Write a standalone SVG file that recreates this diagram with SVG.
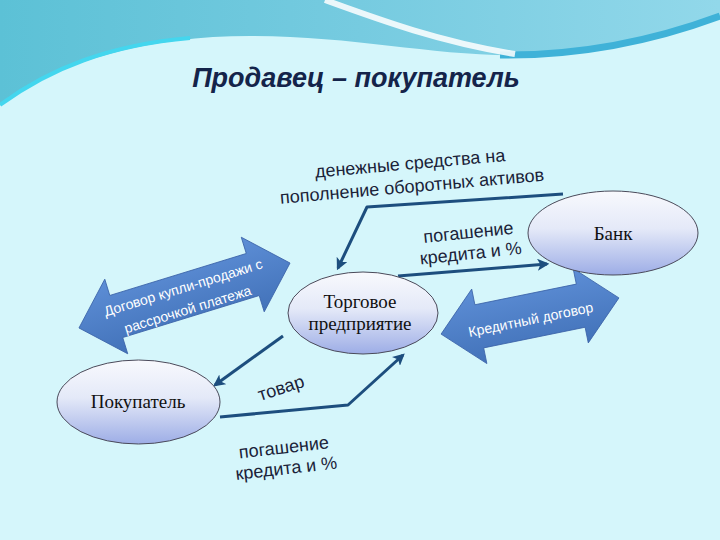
<svg xmlns="http://www.w3.org/2000/svg" width="720" height="540" viewBox="0 0 720 540">
<defs>
<style>
.lbl{font-family:"Liberation Sans",Arial,sans-serif;font-size:18px;fill:#1a2238;text-anchor:middle}
.nodeTxt{font-family:"Liberation Serif","Times New Roman",serif;font-size:19px;fill:#111;text-anchor:middle}
.arrTxt{font-family:"Liberation Sans",Arial,sans-serif;fill:#ffffff;text-anchor:middle}
.conn{fill:none;stroke:#1d4e7e;stroke-width:3;stroke-linejoin:round;marker-end:url(#ah)}
.node{fill:url(#ellG);stroke:#4a4a5a;stroke-width:1}
.big{fill:url(#arrG);stroke:#3b63a8;stroke-width:0.8}
</style>
<linearGradient id="topG" x1="0" y1="0" x2="1" y2="0">
<stop offset="0" stop-color="#5cc1d6"/>
<stop offset="0.5" stop-color="#76cbe0"/>
<stop offset="1" stop-color="#92d8ea"/>
</linearGradient>
<linearGradient id="ellG" x1="0" y1="0" x2="0" y2="1">
<stop offset="0" stop-color="#f8f9fd"/>
<stop offset="0.45" stop-color="#e4e9f8"/>
<stop offset="1" stop-color="#9dade6"/>
</linearGradient>
<linearGradient id="arrG" x1="0" y1="0" x2="0" y2="1">
<stop offset="0" stop-color="#5d8ed6"/>
<stop offset="1" stop-color="#4272b9"/>
</linearGradient>
<marker id="ah" viewBox="0 0 10 10" refX="8" refY="5" markerWidth="4" markerHeight="4" orient="auto" markerUnits="strokeWidth">
<path d="M0,0 L10,5 L0,10 L2.5,5 Z" fill="#1d4e7e"/>
</marker>
</defs>

<g id="background">
<rect x="0" y="0" width="720" height="540" fill="#d5f6fb"/>
<path d="M0,0 H720 V18 C650,38 590,52 530,55 C440,58 360,36 250,36 C150,36 60,60 0,105 Z" fill="url(#topG)"/>
<path d="M0,105 C50,68 110,45 190,38" fill="none" stroke="#44d6ee" stroke-width="4"/>
<path d="M500,55 C580,56 650,42 720,16" fill="none" stroke="#3fb2d8" stroke-width="7"/>
<path d="M325,0 C380,20 440,42 515,54" fill="none" stroke="#ffffff" stroke-width="6" stroke-opacity="0.85"/>
</g>

<g id="title">
<text x="356" y="87" font-family="'Liberation Sans',Arial,sans-serif" font-size="27" font-weight="bold" font-style="italic" fill="#14244a" text-anchor="middle">Продавец – покупатель</text>
</g>

<g id="connectors">
<path class="conn" d="M563,194 L367,207 L338,268"/>
<path class="conn" d="M398,276 L547,264"/>
<path class="conn" d="M283,336 L215,385"/>
<path class="conn" d="M220,417 L348,405 L403,355"/>

<g id="arrow-contract" transform="translate(184.5,295.5) rotate(-17.1)">
<path class="big" d="M-110.4,0 L-71.4,-39 L-71.4,-22 L71.4,-22 L71.4,-39 L110.4,0 L71.4,39 L71.4,22 L-71.4,22 L-71.4,39 Z"/>
<text class="arrTxt" font-size="14" x="1" y="-3">Договор купли-продажи с</text>
<text class="arrTxt" font-size="14" x="-1" y="19">рассрочкой платежа</text>
</g>

<g id="arrow-credit" transform="translate(530,316) rotate(-11.5)">
<path class="big" d="M-90.75,0 L-51.75,-38 L-51.75,-22 L51.75,-22 L51.75,-38 L90.75,0 L51.75,38 L51.75,22 L-51.75,22 L-51.75,38 Z"/>
<text class="arrTxt" font-size="14" x="0" y="8.5">Кредитный договор</text>
</g>

<g transform="translate(411,174.5) rotate(-5)">
<text class="lbl" x="0" y="-5.2">денежные средства на</text>
<text class="lbl" x="0" y="17.8">пополнение оборотных активов</text>
</g>
<g transform="translate(469.5,242.5) rotate(-6)">
<text class="lbl" x="0" y="-4.2">погашение</text>
<text class="lbl" x="0" y="16.8">кредита и %</text>
</g>
<g transform="translate(285,457.5) rotate(-6.5)">
<text class="lbl" x="0" y="-4.2">погашение</text>
<text class="lbl" x="0" y="16.8">кредита и %</text>
</g>
<text class="lbl" transform="translate(281,388) rotate(-18)" x="0" y="6">товар</text>
</g>

<g id="node-bank">
<ellipse class="node" cx="613" cy="233" rx="85" ry="42"/>
<text class="nodeTxt" x="613" y="240">Банк</text>
</g>

<g id="node-trade">
<ellipse class="node" cx="363" cy="313" rx="75" ry="41"/>
<text class="nodeTxt" x="360" y="308">Торговое</text>
<text class="nodeTxt" x="360" y="330">предприятие</text>
</g>

<g id="node-buyer">
<ellipse class="node" cx="138.5" cy="402" rx="81.5" ry="42"/>
<text class="nodeTxt" x="138" y="408">Покупатель</text>
</g>
</svg>
